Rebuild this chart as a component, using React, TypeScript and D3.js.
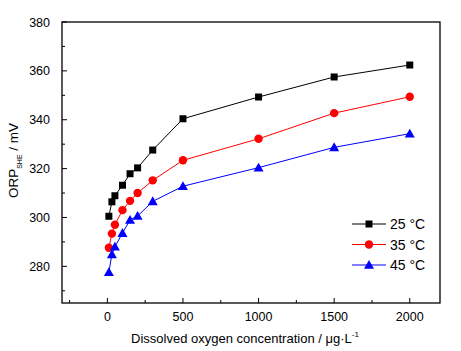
import React from "react";
import * as d3 from "d3";

const xValues = [10, 30, 50, 100, 150, 200, 300, 500, 1000, 1500, 2000];
const orp25 = [300.5, 306.4, 308.9, 313.2, 317.9, 320.3, 327.6, 340.4, 349.3, 357.5, 362.4];
const orp35 = [287.6, 293.4, 297.0, 303.0, 306.8, 310.0, 315.2, 323.4, 332.2, 342.7, 349.4];
const orp45 = [277.6, 284.9, 288.0, 293.6, 299.0, 300.6, 306.6, 312.8, 320.4, 328.7, 334.3];
const seriesNames = ["25 °C", "35 °C", "45 °C"];
const seriesColors = ["#000000", "#ff0000", "#0000ff"];
const xTicks = [0, 500, 1000, 1500, 2000];
const yTicks = [280, 300, 320, 340, 360, 380];

const W = 461, H = 351;
const L = 62, R = 440, T = 22, B = 303;

export default function App() {
  const x = d3.scaleLinear().domain([-300, 2200]).range([L, R]);
  const y = d3.scaleLinear().domain([265, 380]).range([B, T]);
  const line = d3.line<[number, number]>().x(d => x(d[0])).y(d => y(d[1]));
  const all = [orp25, orp35, orp45];
  const xMinor = d3.range(-250, 2200, 250);
  const yMinor = d3.range(270, 380, 10);
  const font = "'Liberation Sans', Arial, sans-serif";

  const marker = (i: number, cx: number, cy: number, key: string) => {
    const c = seriesColors[i];
    if (i === 0) return <rect key={key} x={cx - 3.5} y={cy - 3.5} width={7} height={7} fill={c} />;
    if (i === 1) return <circle key={key} cx={cx} cy={cy} r={4.2} fill={c} />;
    return <path key={key} d={`M${cx},${cy - 5}L${cx + 5},${cy + 3.8}L${cx - 5},${cy + 3.8}Z`} fill={c} />;
  };

  return (
    <svg width={W} height={H} style={{ position: "absolute", left: 0, top: 0, background: "#fff" }}>
      <rect x={0} y={0} width={W} height={H} fill="#fff" />
      {all.map((vals, i) => {
        const pts = xValues.map((xv, j) => [xv, vals[j]] as [number, number]);
        return (
          <g key={i}>
            <path d={line(pts) || ""} fill="none" stroke={seriesColors[i]} strokeWidth={1} />
            {pts.map((p, j) => marker(i, x(p[0]), y(p[1]), `m${i}-${j}`))}
          </g>
        );
      })}
      <rect x={L} y={T} width={R - L} height={B - T} fill="none" stroke="#000" strokeWidth={1.3} />
      {xTicks.map(t => (
        <g key={"xt" + t}>
          <line x1={x(t)} x2={x(t)} y1={B} y2={B - 5} stroke="#000" strokeWidth={1} />
          <text x={x(t)} y={B + 18} textAnchor="middle" fontFamily={font} fontSize={12.5} fill="#000">{t}</text>
        </g>
      ))}
      {xMinor.filter(t => !xTicks.includes(t)).map(t => (
        <line key={"xm" + t} x1={x(t)} x2={x(t)} y1={B} y2={B - 3} stroke="#000" strokeWidth={1} />
      ))}
      {yTicks.map(t => (
        <g key={"yt" + t}>
          <line x1={L} x2={L + 5} y1={y(t)} y2={y(t)} stroke="#000" strokeWidth={1} />
          <text x={L - 12} y={y(t) + 4.5} textAnchor="end" fontFamily={font} fontSize={12.5} fill="#000">{t}</text>
        </g>
      ))}
      {yMinor.filter(t => !yTicks.includes(t)).map(t => (
        <line key={"ym" + t} x1={L} x2={L + 3} y1={y(t)} y2={y(t)} stroke="#000" strokeWidth={1} />
      ))}
      <text x={(L + R) / 2 - 6} y={342.5} textAnchor="middle" fontFamily={font} fontSize={13} fill="#000">
        Dissolved oxygen concentration / μg·L<tspan fontSize={8} dy={-6}>-1</tspan>
      </text>
      <text transform={`translate(17.5, ${(T + B) / 2 - 2}) rotate(-90)`} textAnchor="middle" fontFamily={font} fontSize={13.5} fill="#000">
        ORP<tspan fontSize={7} dy={4}>SHE</tspan><tspan dy={-4}> / mV</tspan>
      </text>
      {seriesNames.map((n, i) => {
        const ly = 224 + i * 20.5;
        return (
          <g key={"lg" + i}>
            <line x1={352} x2={386} y1={ly} y2={ly} stroke={seriesColors[i]} strokeWidth={1} />
            {marker(i, 369, ly, "lm" + i)}
            <text x={390} y={ly + 5} fontFamily={font} fontSize={14} fill="#000">{n}</text>
          </g>
        );
      })}
    </svg>
  );
}
